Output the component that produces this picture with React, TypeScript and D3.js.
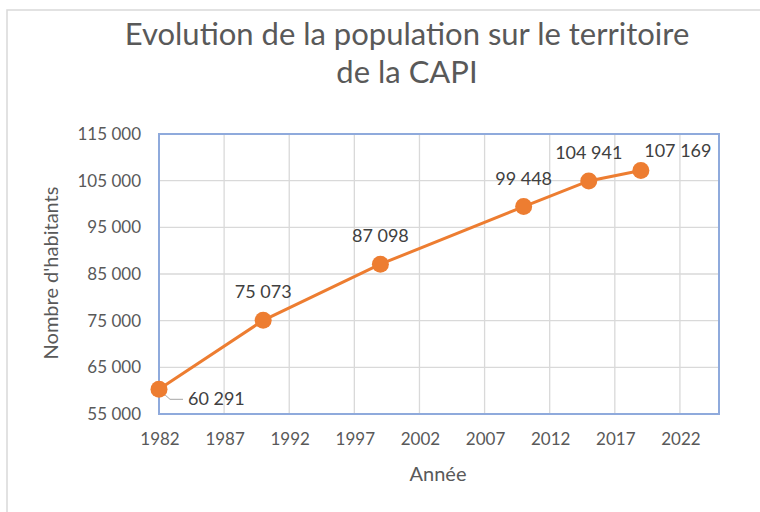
import * as d3 from 'd3';

const YEARS = [1982, 1990, 1999, 2010, 2015, 2019];
const POPULATION = [60291, 75073, 87098, 99448, 104941, 107169];
const X_TICKS = [1982, 1987, 1992, 1997, 2002, 2007, 2012, 2017, 2022];
const Y_TICKS = [55000, 65000, 75000, 85000, 95000, 105000, 115000];
// label offsets relative to the marker (dx, dy, anchor)
const LABEL_POS: [number, number, string][] = [
  [29, 16, 'start'],
  [0, -22, 'middle'],
  [0, -22, 'middle'],
  [0, -22, 'middle'],
  [0, -22, 'middle'],
  [37, -14, 'middle'],
];

const W = 760;
const H = 512;
const PLOT = { left: 159, right: 719, top: 134, bottom: 414 };
const FONT = 'Lato, "Open Sans", sans-serif';
const ORANGE = '#ed7d31';
const GREY = '#595959';

const fmt = (v: number) => d3.format(',')(v).replace(/,/g, ' ');

export default function App() {
  const x = d3.scaleLinear().domain([1982, 2025]).range([PLOT.left, PLOT.right]);
  const y = d3.scaleLinear().domain([55000, 115000]).range([PLOT.bottom, PLOT.top]);
  const points = YEARS.map((yr, i) => ({ yr, v: POPULATION[i] }));
  const line = d3
    .line<{ yr: number; v: number }>()
    .x((d) => x(d.yr))
    .y((d) => y(d.v));

  const x0 = x(YEARS[0]);
  const y0 = y(POPULATION[0]);

  return (
    <svg
      width={W}
      height={H}
      style={{ position: 'absolute', left: 0, top: 0, background: '#fff', fontFamily: FONT }}
    >
      <rect x={0} y={0} width={W} height={H} fill="#fff" />
      {/* chart area border */}
      <rect x={7} y={10} width={W + 20} height={H + 20} fill="none" stroke="#d9d9d9" strokeWidth={1.5} />

      <text x={407} y={45} textAnchor="middle" fontSize={31} fill={GREY}>
        Evolution de la population sur le territoire
      </text>
      <text x={407} y={83} textAnchor="middle" fontSize={31} fill={GREY}>
        de la CAPI
      </text>

      {/* grid */}
      {X_TICKS.map((t) => (
        <line key={'gx' + t} x1={x(t)} x2={x(t)} y1={PLOT.top} y2={PLOT.bottom} stroke="#d9d9d9" strokeWidth={1.3} />
      ))}
      {Y_TICKS.map((t) => (
        <line key={'gy' + t} x1={PLOT.left} x2={PLOT.right} y1={y(t)} y2={y(t)} stroke="#d9d9d9" strokeWidth={1.3} />
      ))}
      <rect
        x={PLOT.left}
        y={PLOT.top}
        width={PLOT.right - PLOT.left}
        height={PLOT.bottom - PLOT.top}
        fill="none"
        stroke="#8faadc"
        strokeWidth={2}
      />

      {/* tick labels */}
      {Y_TICKS.map((t) => (
        <text key={'ty' + t} x={141} y={y(t) + 6} textAnchor="end" fontSize={17} fill={GREY}>
          {fmt(t)}
        </text>
      ))}
      {X_TICKS.map((t) => (
        <text key={'tx' + t} x={x(t) + 1} y={445} textAnchor="middle" fontSize={17} fill={GREY}>
          {t}
        </text>
      ))}

      <text x={438} y={481} textAnchor="middle" fontSize={20} fill={GREY}>
        Année
      </text>
      <text
        transform={`translate(58, 273) rotate(-90)`}
        textAnchor="middle"
        fontSize={20}
        fill={GREY}
      >
        Nombre d'habitants
      </text>

      {/* series */}
      <path d={line(points) ?? ''} fill="none" stroke={ORANGE} strokeWidth={3} />
      {/* leader line for first label */}
      <path
        d={`M${x0 + 2},${y0 + 2} L${x0 + 11},${y0 + 10} L${x0 + 24},${y0 + 10}`}
        fill="none"
        stroke="#a6a6a6"
        strokeWidth={1}
      />
      {points.map((p) => (
        <circle key={'c' + p.yr} cx={x(p.yr)} cy={y(p.v)} r={8.5} fill={ORANGE} />
      ))}
      {points.map((p, i) => (
        <text
          key={'l' + p.yr}
          x={x(p.yr) + LABEL_POS[i][0]}
          y={y(p.v) + LABEL_POS[i][1]}
          textAnchor={LABEL_POS[i][2]}
          fontSize={18}
          fill="#404040"
        >
          {fmt(p.v)}
        </text>
      ))}
    </svg>
  );
}
